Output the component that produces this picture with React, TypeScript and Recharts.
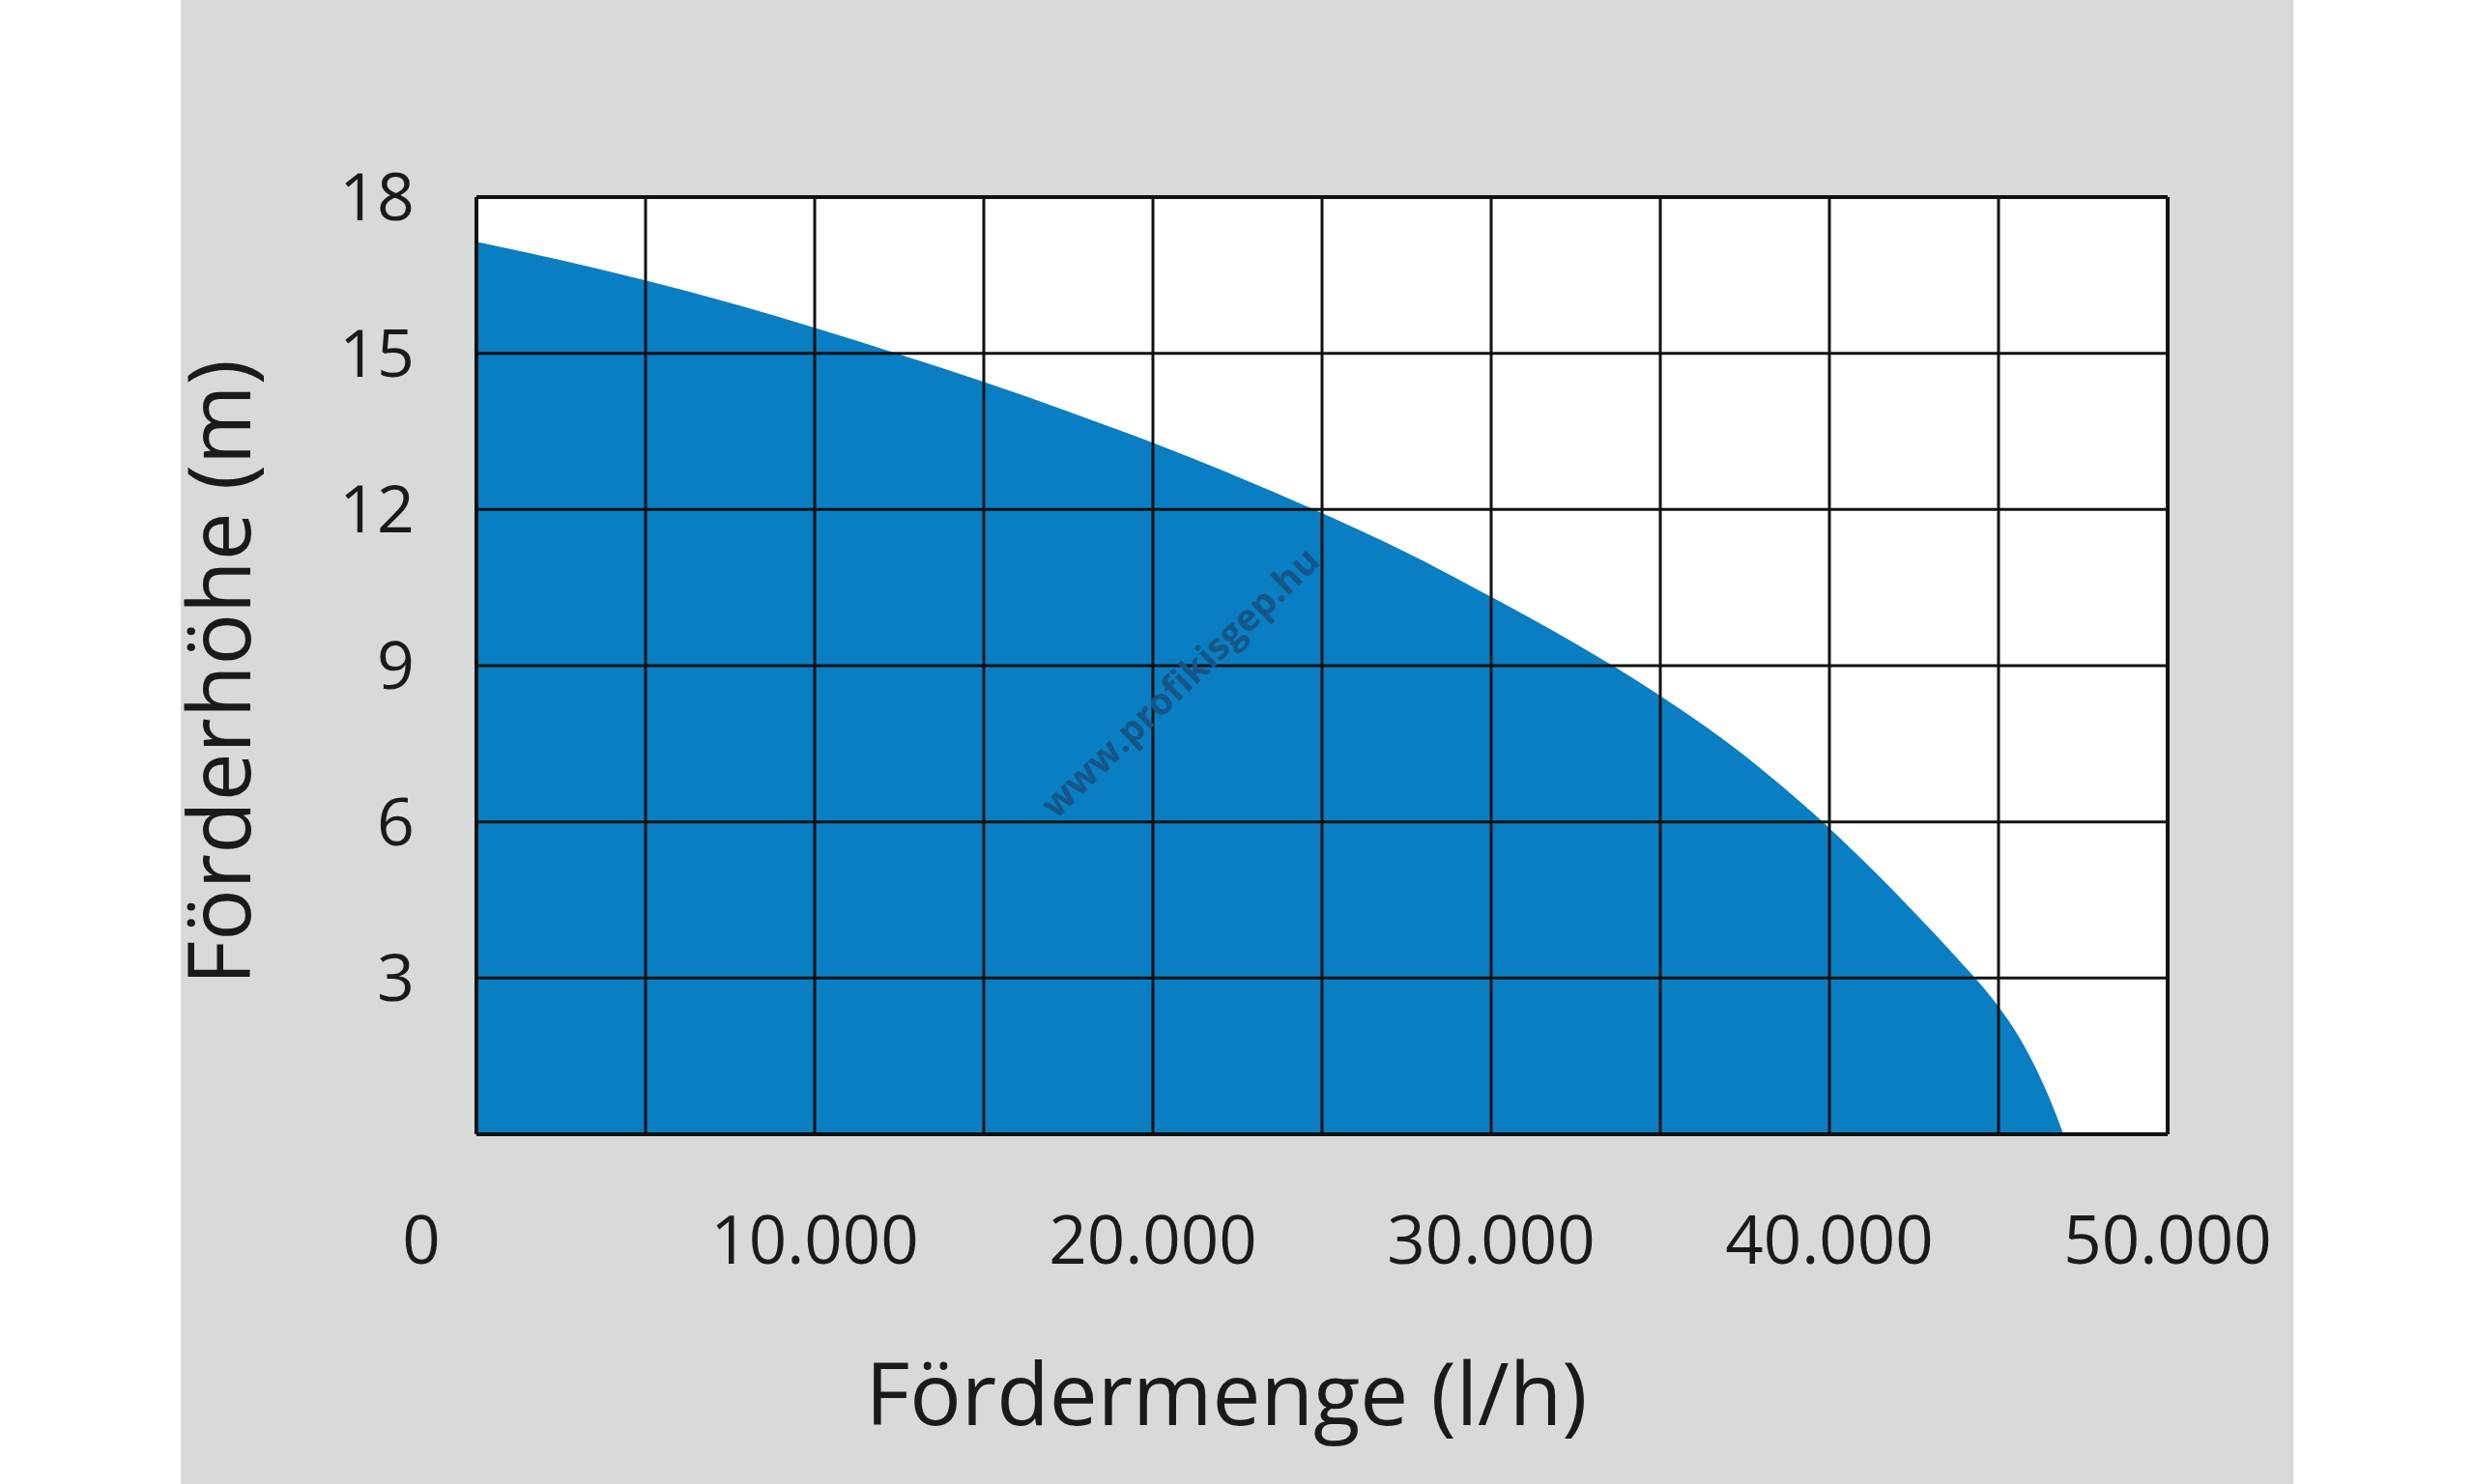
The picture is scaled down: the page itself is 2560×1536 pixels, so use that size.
import {
  Area,
  ComposedChart,
  CartesianGrid,
  ReferenceLine,
  XAxis,
  YAxis,
} from "recharts";

// Pump curve: flow (l/h) vs. head (m).
const flow = [
  0, 2500, 5000, 7500, 10000, 12500, 15000, 17500, 20000, 22500, 25000,
  27500, 30000, 32500, 35000, 37500, 38750, 40000, 41250, 42500, 43750,
  45000, 45500, 46000, 46500, 46920,
];
const head = [
  17.14, 16.79, 16.4, 15.97, 15.49, 14.98, 14.45, 13.88, 13.28, 12.63, 11.93,
  11.17, 10.32, 9.42, 8.42, 7.27, 6.6, 5.88, 5.1, 4.27, 3.4,
  2.45, 1.98, 1.4, 0.7, 0,
];

const flowGrid = [0, 5000, 10000, 15000, 20000, 25000, 30000, 35000, 40000, 45000, 50000];
const flowLabels = [0, 10000, 20000, 30000, 40000, 50000];
const headGrid = [0, 3, 6, 9, 12, 15, 18];

const data = flow.map((q, i) => ({ q, h: head[i] }));

const BLUE = "#0a7ec2";
const LINE = "#111111";
const TEXT = "#1a1a1a";
const FONT = "'Open Sans', sans-serif";
// the "0" label sits left of the axis origin in the original
const ZERO_SHIFT = -57;

const fmtFlow = (v: number) => String(v).replace(/\B(?=(\d{3})+(?!\d))/g, ".");

function FlowTick({ x, y, payload }: { x?: number; y?: number; payload?: { value: number } }) {
  const v = payload?.value ?? 0;
  if (!flowLabels.includes(v)) return <g />;
  return (
    <text
      x={(x ?? 0) + (v === 0 ? ZERO_SHIFT : 0)}
      y={y}
      dy="0.71em"
      textAnchor="middle"
      fontSize={69}
      fill={TEXT}
    >
      {fmtFlow(v)}
    </text>
  );
}

function HeadTitle({ viewBox }: { viewBox?: { x: number; y: number; width: number; height: number } }) {
  if (!viewBox) return null;
  const x = viewBox.x + 72;
  const y = viewBox.y + viewBox.height / 2 + 7;
  return (
    <text x={x} y={y} transform={`rotate(-90, ${x}, ${y})`} textAnchor="middle" fontSize={89} fill={TEXT}>
      Förderhöhe (m)
    </text>
  );
}

function FlowTitle({ viewBox }: { viewBox?: { x: number; y: number; width: number; height: number } }) {
  if (!viewBox) return null;
  return (
    <text x={viewBox.x + viewBox.width / 2 - 99} y={1475} textAnchor="middle" fontSize={89} fill={TEXT}>
      Fördermenge (l/h)
    </text>
  );
}

export default function App() {
  return (
    <div style={{ position: "absolute", left: 0, top: 0, width: 2560, height: 1536, background: "#fff" }}>
      <div
        style={{
          position: "absolute",
          left: 187,
          top: 0,
          width: 2186,
          height: 1536,
          background: "#d9d9d9",
          fontFamily: FONT,
        }}
      >
        <ComposedChart width={2186} height={1536} data={data} margin={{ top: 204, right: 130, bottom: 0, left: 0 }}>
          <CartesianGrid fill="#ffffff" horizontal={false} vertical={false} />
          <XAxis
            type="number"
            dataKey="q"
            domain={[0, 50000]}
            ticks={flowGrid}
            interval={0}
            height={362}
            axisLine={false}
            tickLine={false}
            tickSize={0}
            tickMargin={85}
            tick={<FlowTick />}
            label={{ content: <FlowTitle /> }}
          />
          <YAxis
            type="number"
            domain={[0, 18]}
            ticks={headGrid}
            interval={0}
            width={306}
            axisLine={false}
            tickLine={false}
            tickSize={0}
            tickMargin={64}
            tick={{ fontSize: 68, fill: TEXT }}
            tickFormatter={(v: number) => (v === 0 ? "" : String(v))}
            label={{ content: <HeadTitle /> }}
          />
          <Area
            type="monotone"
            dataKey="h"
            stroke="none"
            fill={BLUE}
            fillOpacity={1}
            isAnimationActive={false}
          />
          {flowGrid.map((v) => (
            <ReferenceLine
              key={`vx-${v}`}
              x={v}
              stroke={LINE}
              strokeWidth={v === 0 || v === 50000 ? 4 : 3}
            />
          ))}
          {headGrid.map((v) => (
            <ReferenceLine
              key={`hy-${v}`}
              y={v}
              stroke={LINE}
              strokeWidth={v === 0 || v === 18 ? 4 : 3}
            />
          ))}
        </ComposedChart>
      </div>
      <div
        style={{
          position: "absolute",
          left: 1220,
          top: 705,
          transform: "translate(-50%, -50%) rotate(-44deg)",
          fontFamily: FONT,
          fontWeight: 700,
          fontSize: 38,
          color: "#155688",
          whiteSpace: "nowrap",
        }}
      >
        www.profikisgep.hu
      </div>
    </div>
  );
}
